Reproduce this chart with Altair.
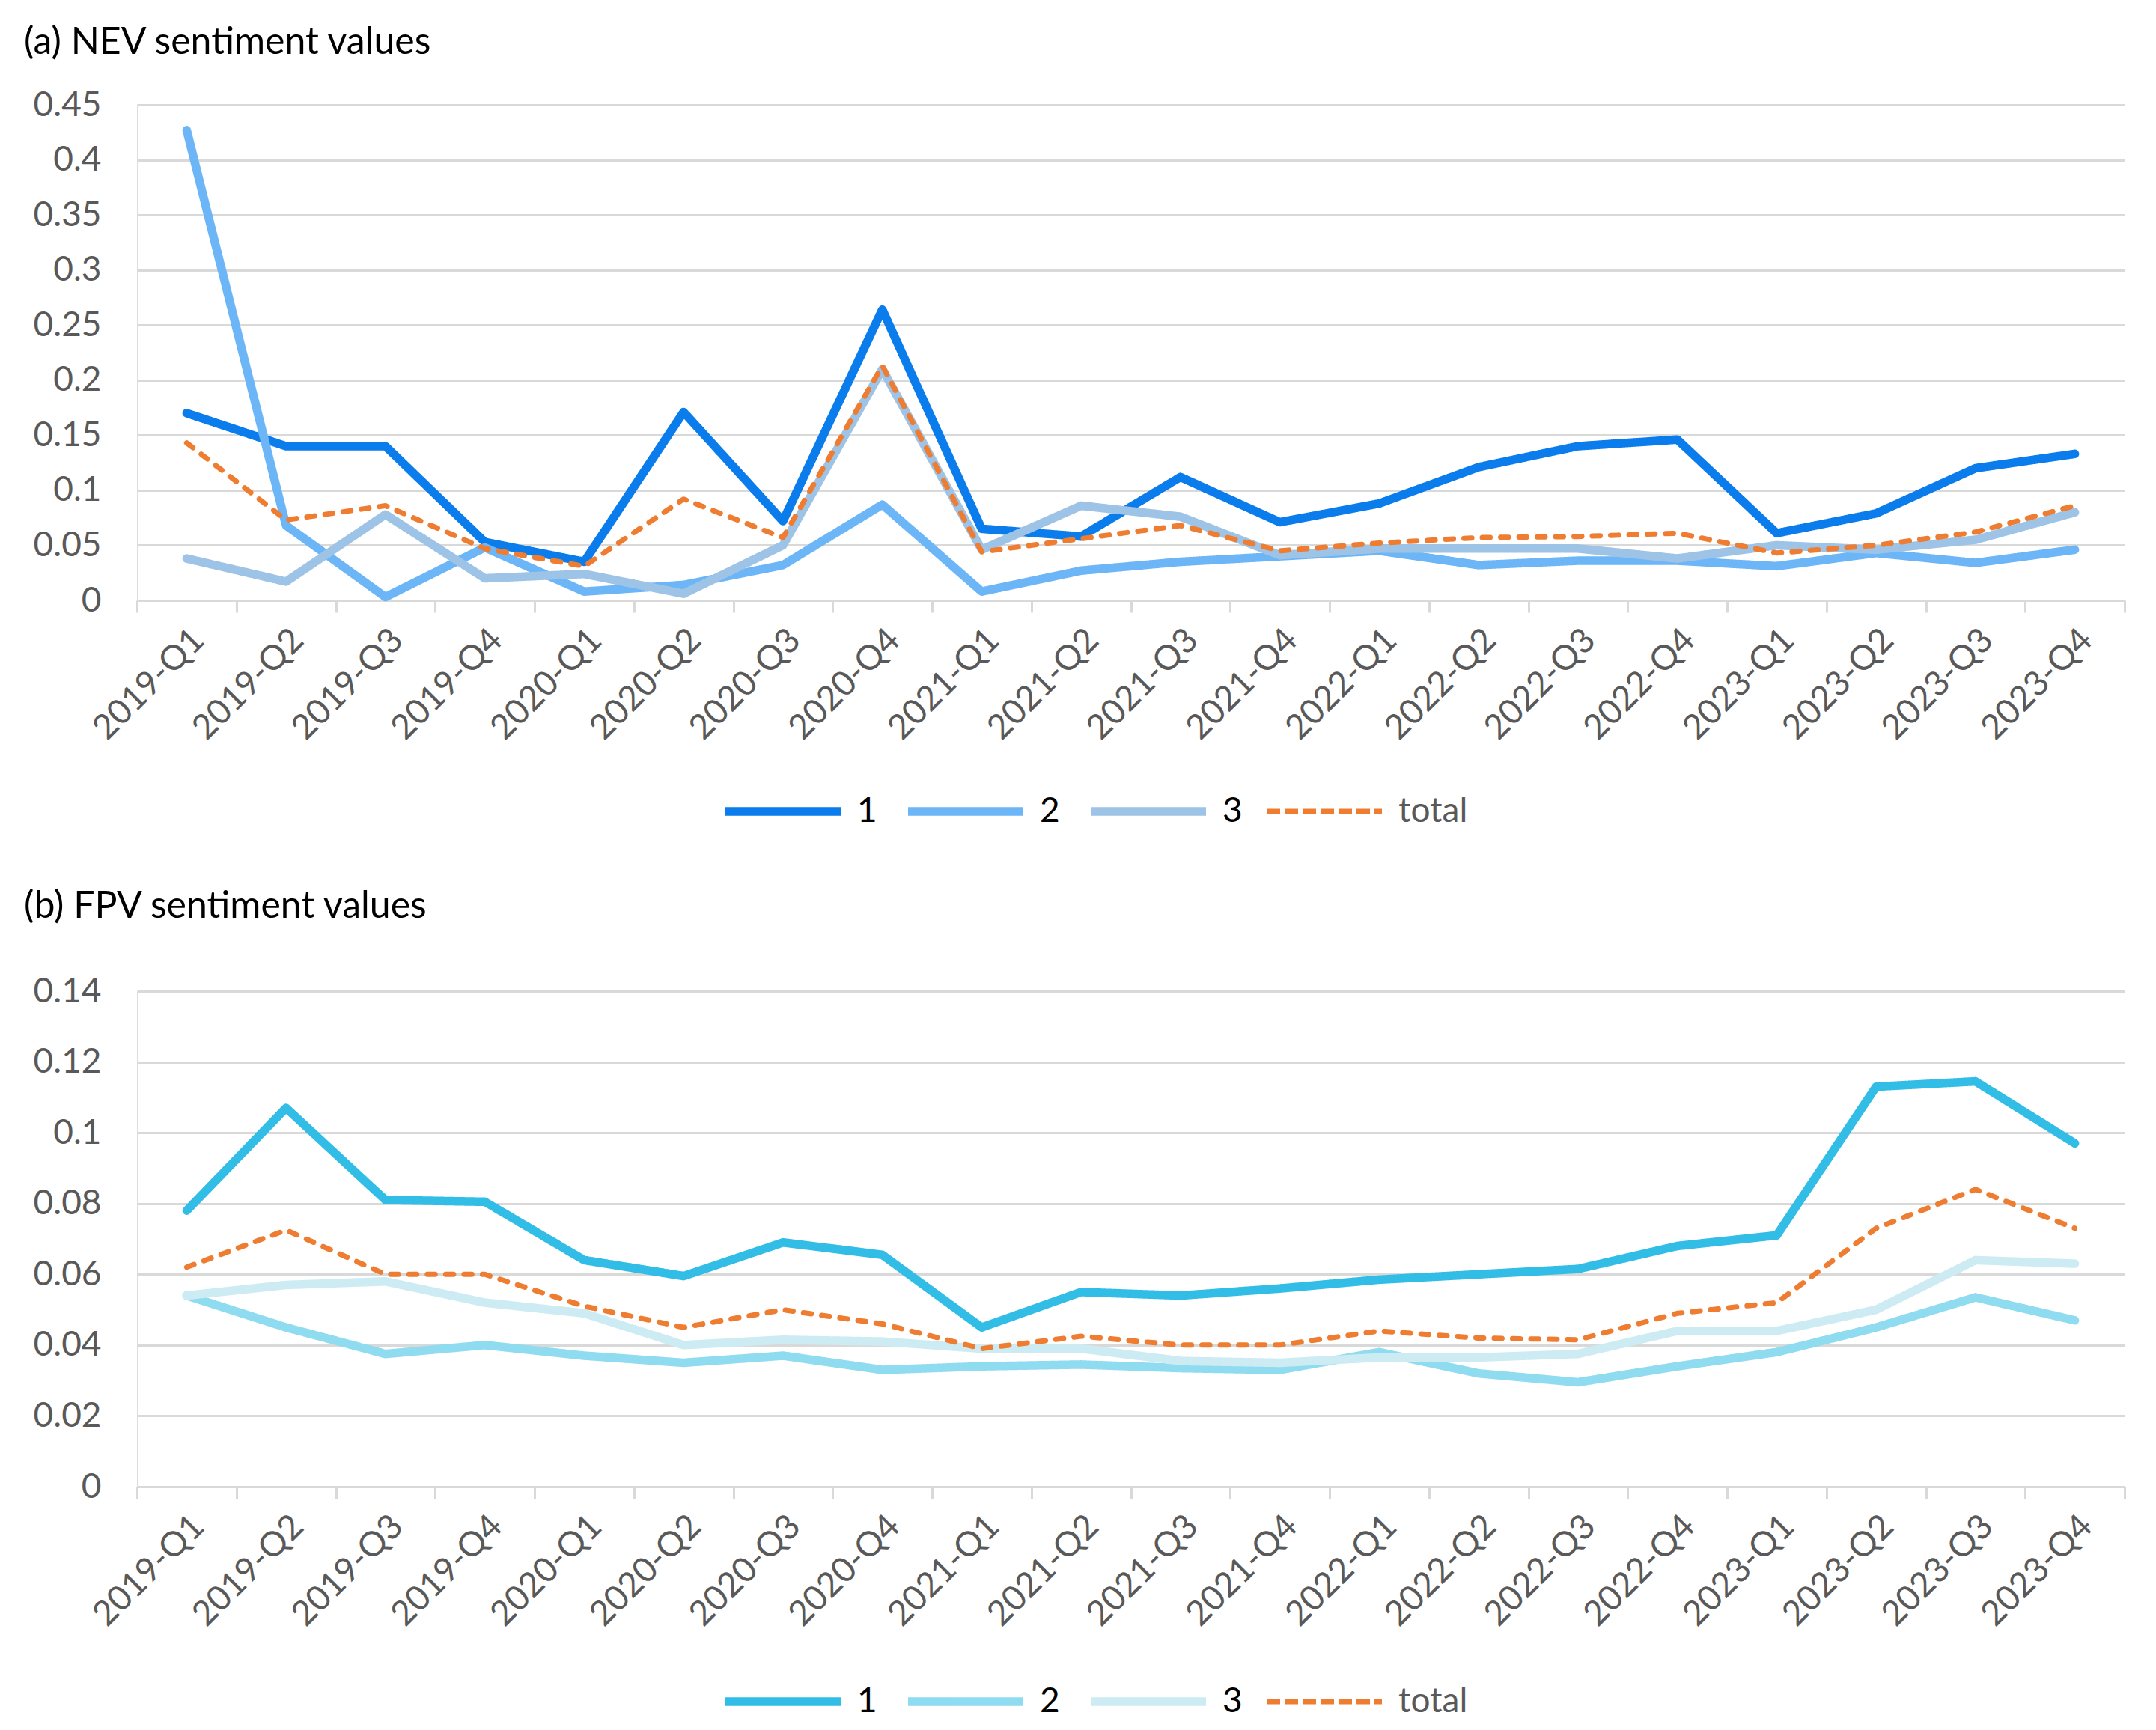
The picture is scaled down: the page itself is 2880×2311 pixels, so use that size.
import altair as alt
import pandas as pd

quarters = ["2019-Q1", "2019-Q2", "2019-Q3", "2019-Q4",
            "2020-Q1", "2020-Q2", "2020-Q3", "2020-Q4",
            "2021-Q1", "2021-Q2", "2021-Q3", "2021-Q4",
            "2022-Q1", "2022-Q2", "2022-Q3", "2022-Q4",
            "2023-Q1", "2023-Q2", "2023-Q3", "2023-Q4"]
series_names = ["1", "2", "3", "total"]

nev_1 = [0.170, 0.140, 0.140, 0.053, 0.035, 0.171, 0.072, 0.264, 0.065, 0.058,
         0.112, 0.071, 0.088, 0.121, 0.140, 0.146, 0.061, 0.079, 0.120, 0.133]
nev_2 = [0.427, 0.068, 0.003, 0.048, 0.008, 0.014, 0.032, 0.087, 0.008, 0.027,
         0.035, 0.040, 0.045, 0.032, 0.036, 0.036, 0.031, 0.043, 0.034, 0.046]
nev_3 = [0.038, 0.017, 0.078, 0.020, 0.024, 0.006, 0.050, 0.210, 0.046, 0.086,
         0.076, 0.041, 0.047, 0.047, 0.047, 0.038, 0.050, 0.046, 0.055, 0.080]
nev_total = [0.143, 0.073, 0.086, 0.047, 0.031, 0.092, 0.057, 0.213, 0.044, 0.056,
             0.068, 0.045, 0.052, 0.057, 0.058, 0.061, 0.043, 0.050, 0.062, 0.086]

fpv_1 = [0.078, 0.107, 0.081, 0.0805, 0.064, 0.0595, 0.069, 0.0655, 0.045, 0.055,
         0.054, 0.056, 0.0585, 0.060, 0.0615, 0.068, 0.071, 0.113, 0.1145, 0.097]
fpv_2 = [0.054, 0.045, 0.0375, 0.040, 0.037, 0.035, 0.037, 0.033, 0.034, 0.0345,
         0.0335, 0.033, 0.038, 0.032, 0.0295, 0.034, 0.038, 0.045, 0.0535, 0.047]
fpv_3 = [0.054, 0.057, 0.058, 0.052, 0.049, 0.040, 0.0415, 0.041, 0.039, 0.039,
         0.0355, 0.035, 0.0365, 0.0365, 0.0375, 0.044, 0.044, 0.050, 0.064, 0.063]
fpv_total = [0.062, 0.0725, 0.060, 0.060, 0.051, 0.045, 0.050, 0.046, 0.039, 0.0425,
             0.040, 0.040, 0.044, 0.042, 0.0415, 0.049, 0.052, 0.073, 0.084, 0.073]

nev_colors = ["#0a7ceb", "#6cb6f8", "#9dc3e6", "#ee7d31"]
fpv_colors = ["#32bde6", "#8fdcf0", "#cdebf3", "#ee7d31"]

FONT = "Lato"
W, H = 2655, 662
THICK, THIN = 11.5, 7


def long_df(lists):
    rows = []
    for name, vals in zip(series_names, lists):
        for q, v in zip(quarters, vals):
            rows.append({"quarter": q, "series": name, "value": v})
    return pd.DataFrame(rows)


def panel(title, lists, colors, ymax, yvals, title_offset, legend_y):
    df = long_df(lists)
    legend = alt.Legend(
        title=None, orient="none", direction="horizontal",
        legendX=780, legendY=legend_y, gridAlign="none",
        symbolType="stroke", symbolSize=154 * 154,
        symbolStrokeWidth={"expr": f"(datum.value == 'total' ? {THIN} : {THICK})"},
        symbolDash={"expr": "(datum.value == 'total' ? [18, 6] : [1, 0])"},
        labelFontSize=46, labelFont=FONT,
        labelColor={"expr": "(datum.label == 'total' ? '#595959' : '#000000')"},
        labelOffset=16, columnPadding=18,
    )
    return alt.Chart(df).mark_line(strokeJoin="round", strokeCap="round").encode(
        x=alt.X("quarter:N", sort=quarters, bandPosition=0.5,
                scale=alt.Scale(type="band", paddingInner=0, paddingOuter=0),
                axis=alt.Axis(title=None, labelAngle=-45, tickBand="extent",
                              domainColor="#d9d9d9", domainWidth=3,
                              tickColor="#d9d9d9", tickWidth=3, tickSize=16,
                              labelFontSize=46, labelFont=FONT, labelLimit=0,
                              labelColor="#595959", labelPadding=14, grid=False)),
        y=alt.Y("value:Q", scale=alt.Scale(domain=[0, ymax], nice=False),
                axis=alt.Axis(title=None, values=yvals, format=".2~f",
                              ticks=False, domain=False,
                              gridColor="#d9d9d9", gridWidth=3,
                              labelFontSize=46, labelFont=FONT,
                              labelColor="#595959", labelPadding=48)),
        color=alt.Color("series:N", sort=series_names,
                        scale=alt.Scale(domain=series_names, range=colors),
                        legend=legend),
        strokeDash=alt.condition("datum.series == 'total'",
                                 alt.value([10.5, 14]), alt.value([1, 0])),
        strokeWidth=alt.condition("datum.series == 'total'",
                                  alt.value(THIN), alt.value(THICK)),
    ).properties(
        width=W, height=H,
        title=alt.TitleParams(title, anchor="start", frame="bounds", fontSize=50,
                              font=FONT, fontWeight="normal", color="#000000",
                              offset=title_offset, dx=-12),
    )


top = panel("(a) NEV sentiment values", [nev_1, nev_2, nev_3, nev_total],
            nev_colors, 0.45, [i * 0.05 for i in range(10)], 35, 861)
bottom = panel("(b) FPV sentiment values",
               [fpv_1, fpv_2, fpv_3, fpv_total],
               fpv_colors, 0.14, [i * 0.02 for i in range(8)], 65, 866)

chart = alt.vconcat(top, bottom, spacing=77).resolve_scale(
    color="independent"
).properties(
    padding={"left": 23, "top": 23, "right": 5, "bottom": 5}
).configure_view(stroke=None).configure(background="white")

chart.save("out.html", embed_options={"renderer": "svg", "actions": False})
